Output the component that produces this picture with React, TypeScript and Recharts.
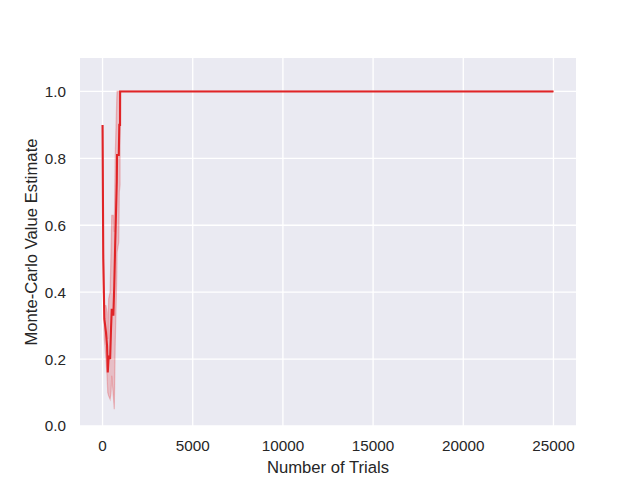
import React from 'react';
import { ComposedChart, Line, Area, XAxis, YAxis, CartesianGrid, Label } from 'recharts';

const trials = [0, 40, 100, 190, 250, 290, 340, 420, 470, 510, 600, 650, 700, 790, 805, 900, 930, 970, 975, 25000];
const meanEstimate = [0.9, 0.5, 0.32, 0.28, 0.24, 0.16, 0.21, 0.2, 0.29, 0.35, 0.33, 0.42, 0.54, 0.73, 0.81, 0.81, 0.9, 0.9, 1.0, 1.0];
const lowerBound = [0.9, 0.45, 0.26, 0.2, 0.15, 0.1, 0.09, 0.08, 0.1, 0.15, 0.09, 0.05, 0.24, 0.45, 0.52, 0.55, 0.7, 0.72, 1.0, 1.0];
const upperBound = [0.9, 0.55, 0.36, 0.36, 0.34, 0.26, 0.38, 0.4, 0.52, 0.63, 0.63, 0.58, 0.8, 0.98, 1.0, 1.0, 1.0, 1.0, 1.0, 1.0];
const xTicks = [0, 5000, 10000, 15000, 20000, 25000];
const yTicks = [0, 0.2, 0.4, 0.6, 0.8, 1.0];

const data = trials.map((t, i) => ({
  trials: t,
  mean: meanEstimate[i],
  band: [lowerBound[i], upperBound[i]],
}));

const RED = '#e02427';
const TEXT = '#262626';
const FONT = '"Liberation Sans", Arial, sans-serif';

const YLabel = (props: any) => {
  const vb = props.viewBox || {};
  const cx = 37;
  const cy = vb.y + vb.height / 2;
  return (
    <text
      x={cx}
      y={cy}
      transform={`rotate(-90, ${cx}, ${cy})`}
      textAnchor="middle"
      fill={TEXT}
      fontSize={16.67}
      fontFamily={FONT}
    >
      Monte-Carlo Value Estimate
    </text>
  );
};

export default function App() {
  return (
    <div style={{ position: 'absolute', left: 0, top: 0, width: 640, height: 480, background: '#fff' }}>
      <ComposedChart
        width={640}
        height={480}
        data={data}
        margin={{ top: 58, right: 64, bottom: 0, left: 0 }}
      >
        <CartesianGrid fill="#EAEAF2" stroke="#ffffff" strokeWidth={1.3} verticalValues={xTicks} horizontalValues={yTicks} />
        <XAxis
          dataKey="trials"
          type="number"
          domain={[-1250, 26250]}
          ticks={xTicks}
          allowDataOverflow
          axisLine={false}
          tickLine={false}
          tickSize={0}
          tickMargin={14}
          height={54}
          tick={{ fill: TEXT, fontSize: 15.28, fontFamily: FONT }}
          interval={0}
        >
          <Label
            value="Number of Trials"
            position="insideBottom"
            offset={7}
            fill={TEXT}
            fontSize={16.67}
            fontFamily={FONT}
          />
        </XAxis>
        <YAxis
          type="number"
          domain={[0, 1.1]}
          ticks={yTicks}
          allowDataOverflow
          axisLine={false}
          tickLine={false}
          tickSize={0}
          tickMargin={14}
          width={80}
          interval={0}
          tickFormatter={(v: number) => v.toFixed(1)}
          tick={{ fill: TEXT, fontSize: 15.28, fontFamily: FONT }}
          label={<YLabel />}
        />
        <Area
          type="linear"
          dataKey="band"
          stroke={RED}
          strokeOpacity={0.25}
          strokeWidth={1.2}
          fill={RED}
          fillOpacity={0.22}
          isAnimationActive={false}
          activeDot={false}
        />
        <Line
          type="linear"
          dataKey="mean"
          stroke={RED}
          strokeWidth={2.1}
          dot={false}
          activeDot={false}
          isAnimationActive={false}
        />
      </ComposedChart>
    </div>
  );
}
